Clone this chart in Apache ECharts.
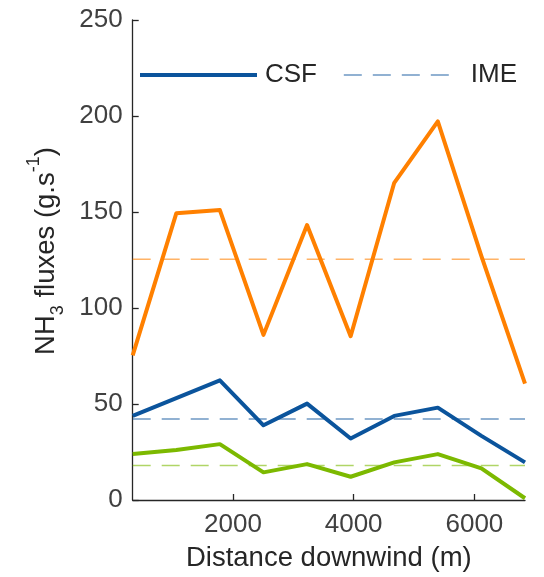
<!DOCTYPE html>
<html>
<head>
<meta charset="utf-8">
<script src="https://cdn.jsdelivr.net/npm/echarts@6/dist/echarts.min.js"></script>
<style>html,body{margin:0;padding:0;background:#fff}#c{width:544px;height:577px}</style>
</head>
<body>
<div id="c"></div>
<script>
// Distance downwind (m)
const distances = [340, 1062, 1784, 2506, 3228, 3950, 4672, 5394, 6116, 6838];
// CSF fluxes (g/s)
const csfBlue   = [43.8, 53.1, 62.3, 38.9, 50.2, 32.0, 43.8, 48.1, 33.4, 19.6];
const csfOrange = [75.3, 149.3, 151.0, 86.0, 143.2, 85.3, 165.2, 197.2, 127, 60.6];
const csfGreen  = [23.9, 26.0, 29.1, 14.4, 18.7, 12.1, 19.6, 23.9, 16.5, 0.9];
// IME fluxes (g/s)
const imeBlue = 42.2;
const imeOrange = 125.4;
const imeGreen = 18.0;
const xTicks = [2000, 4000, 6000];
const yTicks = [0, 50, 100, 150, 200, 250];

const FONT = 'Liberation Sans';
const C_BLUE = '#0b549c', C_ORANGE = '#ff8000', C_GREEN = '#7cb900';

function pairs(ys){ return distances.map((x,i)=>[x, ys[i]]); }
function flat(v){ return [[distances[0], v], [distances[distances.length-1], v]]; }

const solid = (name, color, ys) => ({
  name, type:'line', data: pairs(ys), symbol:'none', z:3,
  lineStyle:{color, width:4, join:'round'}, itemStyle:{color}
});
const dashed = (name, color, v) => ({
  name, type:'line', data: flat(v), symbol:'none', z:2,
  lineStyle:{color, width:1.6, type:[18,11], opacity:0.6}, itemStyle:{color, opacity:0.6}
});

const legendText = {fontFamily:FONT, fontSize:26, color:'#262626'};

const chart = echarts.init(document.getElementById('c'), null, {renderer:'canvas'});
chart.setOption({
  animation:false,
  backgroundColor:'#fff',
  textStyle:{fontFamily:FONT},
  grid:{left:132.7, right:19, top:20, bottom:75.3, containLabel:false},
  legend:[
    {
      data:[{name:'CSF', itemStyle:{opacity:0}, lineStyle:{width:4, color:C_BLUE, opacity:1}}],
      left:133, top:57, itemWidth:117, itemHeight:10,
      textStyle:Object.assign({padding:[0,0,0,3]}, legendText)
    },
    {
      data:[{name:'IME', itemStyle:{opacity:0}, lineStyle:{width:1.6, color:C_BLUE, opacity:0.6, type:[18,11]}}],
      left:338, top:57, itemWidth:111, itemHeight:10,
      textStyle:Object.assign({padding:[0,0,0,11]}, legendText)
    }
  ],
  xAxis:{
    type:'value', min:distances[0], max:distances[distances.length-1],
    name:'Distance downwind (m)', nameLocation:'middle', nameGap:44,
    nameTextStyle:{fontFamily:FONT, fontSize:27.5, color:'#262626'},
    axisLine:{lineStyle:{color:'#262626', width:1.3}},
    axisTick:{inside:true, length:6, customValues:xTicks, lineStyle:{color:'#262626', width:1.3}},
    axisLabel:{customValues:xTicks, fontFamily:FONT, fontSize:26, color:'#404040', margin:12,
      formatter:(v)=>String(v)},
    splitLine:{show:false}
  },
  yAxis:{
    type:'value', min:yTicks[0], max:yTicks[yTicks.length-1], interval:50,
    name:'{a|NH}{sub|3}{a| fluxes (g.s}{sup|-1}{a|)}', nameLocation:'middle', nameGap:72, nameRotate:90,
    nameTextStyle:{
      fontFamily:FONT, fontSize:27.5, color:'#262626', padding:[0,0,0,18],
      rich:{
        a:{fontFamily:FONT, fontSize:27.5, color:'#262626', verticalAlign:'bottom', lineHeight:34},
        sub:{fontFamily:FONT, fontSize:18, color:'#262626', verticalAlign:'bottom', lineHeight:26, padding:[0,0,-6,0]},
        sup:{fontFamily:FONT, fontSize:18, color:'#262626', verticalAlign:'top', lineHeight:26, padding:[-2,0,0,0]}
      }
    },
    axisLine:{show:true, lineStyle:{color:'#262626', width:1.3}},
    axisTick:{show:true, inside:true, length:6, lineStyle:{color:'#262626', width:1.3}},
    axisLabel:{fontFamily:FONT, fontSize:26, color:'#404040', margin:10},
    splitLine:{show:false}
  },
  series:[
    dashed('IME', C_BLUE, imeBlue),
    dashed('IME orange', C_ORANGE, imeOrange),
    dashed('IME green', C_GREEN, imeGreen),
    solid('CSF', C_BLUE, csfBlue),
    solid('CSF orange', C_ORANGE, csfOrange),
    solid('CSF green', C_GREEN, csfGreen)
  ]
});
</script>
</body>
</html>
